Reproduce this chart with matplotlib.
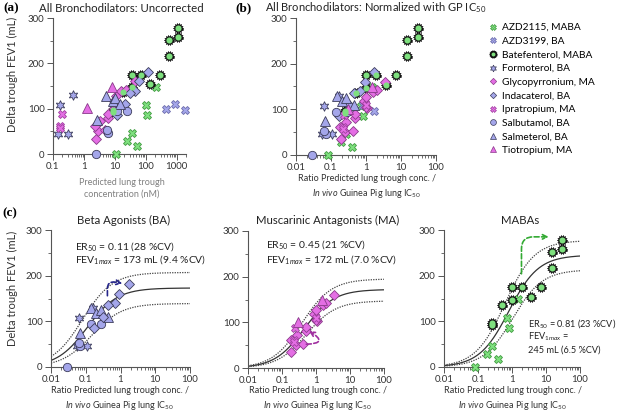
import matplotlib.pyplot as plt
import numpy as np
from matplotlib.lines import Line2D
from matplotlib.legend_handler import HandlerTuple
from matplotlib.patches import FancyArrowPatch
from matplotlib.path import Path
from matplotlib.ticker import FixedLocator, LogLocator, NullFormatter, FuncFormatter

plt.rcParams['font.family'] = ['Lato', 'DejaVu Sans']
plt.rcParams['mathtext.fontset'] = 'custom'
plt.rcParams['mathtext.rm'] = 'Lato'
plt.rcParams['mathtext.it'] = 'Lato:italic'
plt.rcParams['mathtext.bf'] = 'Lato:bold'

# ---- data: delta trough FEV1 (mL), conc (nM), ratio conc / GP IC50 ----
azd2115_y = [0, 28, 46, 17, 107, 85, 148]
azd2115_conc = [11.3, 25, 36, 52, 100, 110, 210]
azd2115_ratio = [0.08, 0.19, 0.26, 0.39, 0.71, 0.8, 1.5]

azd3199_y = [99, 110, 96]
azd3199_conc = [440, 890, 1860]
azd3199_ratio = [0.4, 0.81, 1.7]

batef_y = [278, 258, 251, 216, 175, 154, 175, 175, 147, 136, 96, 92]
batef_conc = [1100, 1100, 560, 560, 280, 135, 72, 37, 37, 18, 8.4, 8.4]
batef_ratio = [30, 30, 15.3, 15.3, 7.2, 3.7, 1.97, 1.0, 1.0, 0.51, 0.25, 0.25]

formo_y = [108, 45, 45, 130]
formo_conc = [0.168, 0.149, 0.31, 0.45]
formo_ratio = [0.063, 0.055, 0.11, 0.165]

glyco_y = [34, 51, 53, 62, 73, 80, 89, 102, 106, 118, 127, 138, 142, 160]
glyco_conc = [2.44, 2.9, 4.8, 2.2, 3.2, 6.1, 6.1, 9.5, 10, 9.3, 11.3, 16.3, 23, 44]
glyco_ratio = [0.19, 0.255, 0.42, 0.18, 0.27, 0.5, 0.5, 1.1, 0.97, 0.9, 1.0, 1.6, 2.0, 3.4]

inda_y = [181, 160, 140, 135, 110, 86]
inda_conc = [119, 61, 44, 30, 22, 12]
inda_ratio = [1.7, 0.93, 0.68, 0.45, 0.32, 0.17]

iprat_y = [88, 62, 58, 110]
iprat_conc = [0.19, 0.168, 0.168, 10.7]
iprat_ratio = [0.24, 0.22, 0.22, 1.0]

salbu_y = [0, 47, 52, 94, 94]
salbu_conc = [2.4, 6.1, 5.6, 11.9, 24]
salbu_ratio = [0.028, 0.07, 0.062, 0.14, 0.28]

salme_y = [74, 129, 118, 124, 110]
salme_conc = [2.6, 5.1, 8.4, 10, 14.5]
salme_ratio = [0.067, 0.145, 0.2, 0.27, 0.44]

tio_y = [101, 148]
tio_conc = [1.22, 7.8]
tio_ratio = [0.3, 1.5]

# Emax fits (ER50, Emax) and the dotted bands
ba_fit = (0.11, 173)
ba_upper = (0.08, 207)
ba_lower = (0.15, 139)
ma_fit = (0.45, 172)
ma_upper = (0.38, 195)
ma_lower = (0.52, 147)
maba_fit = (0.81, 245)
maba_upper = (0.62, 277)
maba_lower = (1.05, 213)

# ---- styles ----
lav = '#a4a6ea'
pink = '#e46ee4'
green = '#7ee07e'
dark = '#3c3c5a'

ang = np.linspace(0, 2 * np.pi, 29)[:-1]
rad = np.where(np.arange(28) % 2 == 0, 1.0, 0.72)
gear = Path(np.column_stack([rad * np.cos(ang), rad * np.sin(ang)]), closed=True)

styles = {
    'AZD2115, MABA': dict(marker='X', mfc=green, mec='#3f9a3f', ms=6),
    'AZD3199, BA': dict(marker='X', mfc=lav, mec='#6a6aaa', ms=6),
    'Batefenterol, MABA': None,
    'Formoterol, BA': dict(marker=(6, 1, 0), mfc=lav, mec=dark, ms=7),
    'Glycopyrronium, MA': dict(marker='D', mfc=pink, mec='#8a3a8a', ms=4.6),
    'Indacaterol, BA': dict(marker='D', mfc=lav, mec=dark, ms=4.6),
    'Ipratropium, MA': dict(marker='X', mfc=pink, mec='#a040a0', ms=6),
    'Salbutamol, BA': dict(marker='o', mfc=lav, mec=dark, ms=6),
    'Salmeterol, BA': dict(marker='^', mfc=lav, mec=dark, ms=6.5),
    'Tiotropium, MA': dict(marker='^', mfc=pink, mec='#8a3a8a', ms=6.5),
}

series = {
    'AZD2115, MABA': (azd2115_conc, azd2115_ratio, azd2115_y),
    'AZD3199, BA': (azd3199_conc, azd3199_ratio, azd3199_y),
    'Batefenterol, MABA': (batef_conc, batef_ratio, batef_y),
    'Formoterol, BA': (formo_conc, formo_ratio, formo_y),
    'Glycopyrronium, MA': (glyco_conc, glyco_ratio, glyco_y),
    'Indacaterol, BA': (inda_conc, inda_ratio, inda_y),
    'Ipratropium, MA': (iprat_conc, iprat_ratio, iprat_y),
    'Salbutamol, BA': (salbu_conc, salbu_ratio, salbu_y),
    'Salmeterol, BA': (salme_conc, salme_ratio, salme_y),
    'Tiotropium, MA': (tio_conc, tio_ratio, tio_y),
}


def draw(ax, name, x, y):
    if name == 'Batefenterol, MABA':
        ax.plot(x, y, ls='none', marker=gear, ms=7.5, mfc='#111111', mec='#111111',
                mew=0.3, clip_on=False, zorder=3)
        ax.plot(x, y, ls='none', marker='o', ms=4.4, mfc=green, mec='none',
                clip_on=False, zorder=3.1)
    else:
        ax.plot(x, y, ls='none', mew=0.6, clip_on=False, zorder=3, **styles[name])


W, H = 617, 412
fig = plt.figure(figsize=(W / 100, H / 100), dpi=100)


def px_axes(l, r, t, b):
    return fig.add_axes([l / W, 1 - b / H, (r - l) / W, (b - t) / H])


def style_axes(ax, xmin, xmax):
    ax.set_xscale('log')
    ax.set_xlim(xmin, xmax)
    ax.set_ylim(0, 300)
    for s in ['top', 'right']:
        ax.spines[s].set_visible(False)
    for s in ['left', 'bottom']:
        ax.spines[s].set_color('#555555')
        ax.spines[s].set_linewidth(0.8)
    ax.yaxis.set_major_locator(FixedLocator([0, 100, 200, 300]))
    ax.yaxis.set_minor_locator(FixedLocator([50, 150, 250]))
    ax.xaxis.set_major_locator(LogLocator(base=10, numticks=12))
    ax.xaxis.set_minor_locator(LogLocator(base=10, subs=np.arange(2, 10), numticks=12))
    ax.xaxis.set_minor_formatter(NullFormatter())
    ax.xaxis.set_major_formatter(FuncFormatter(lambda v, p: f'{v:g}'))
    ax.tick_params(which='major', direction='out', length=4, width=0.7, color='#555555',
                   labelsize=7, labelcolor='#333333', pad=2)
    ax.tick_params(which='minor', direction='out', length=2.5, width=0.6, color='#555555')


def ftext(x, y, s, **kw):
    fig.text(x / W, 1 - y / H, s, **kw)


# ---- (a) uncorrected ----
ax_a = px_axes(53, 186, 18, 154)
style_axes(ax_a, 0.1, 2000)
for name, (conc, ratio, yv) in series.items():
    draw(ax_a, name, conc, yv)

# ---- (b) normalized ----
ax_b = px_axes(296, 436, 18, 155)
style_axes(ax_b, 0.01, 100)
for name, (conc, ratio, yv) in series.items():
    draw(ax_b, name, ratio, yv)

# ---- (c) class panels ----
xfit = np.logspace(-2, 2, 300)
panels = [
    (px_axes(51, 190, 230, 367), ['Formoterol, BA', 'Salbutamol, BA', 'Salmeterol, BA', 'Indacaterol, BA'],
     ba_fit, ba_upper, ba_lower),
    (px_axes(248, 384, 231, 368), ['Glycopyrronium, MA', 'Ipratropium, MA', 'Tiotropium, MA'],
     ma_fit, ma_upper, ma_lower),
    (px_axes(444, 580, 230, 367), ['AZD2115, MABA', 'Batefenterol, MABA'],
     maba_fit, maba_upper, maba_lower),
]
axes_c = []
for ax, names, fit, up, lo in panels:
    style_axes(ax, 0.01, 100)
    ax.plot(xfit, fit[1] * xfit / (fit[0] + xfit), color='#333333', lw=0.9, zorder=2)
    for er50, emax in (up, lo):
        ax.plot(xfit, emax * xfit / (er50 + xfit), color='#444444', lw=0.9, ls=(0, (1, 1)), zorder=2)
    for name in names:
        conc, ratio, yv = series[name]
        draw(ax, name, ratio, yv)
    axes_c.append(ax)

ax_c1, ax_c2, ax_c3 = axes_c

# dashed arrows
arr1 = FancyArrowPatch((0.42, 150), (1.35, 182), connectionstyle='angle,angleA=90,angleB=-10,rad=8',
                       arrowstyle='->', mutation_scale=8, color='#25258a', lw=1.2, ls=(0, (3, 1.5)), zorder=4)
ax_c1.add_patch(arr1)
arr2 = FancyArrowPatch((0.43, 52), (0.53, 84), connectionstyle='angle3,angleA=0,angleB=150',
                       arrowstyle='->', mutation_scale=8, color='#a030a0', lw=1.2, ls=(0, (3, 1.5)), zorder=4)
ax_c2.add_patch(arr2)
arr3 = FancyArrowPatch((1.9, 198), (14.5, 285), connectionstyle='angle,angleA=90,angleB=0,rad=12',
                       arrowstyle='->', mutation_scale=8, color='#33aa33', lw=1.2, ls=(0, (3, 1.5)), zorder=4)
ax_c3.add_patch(arr3)

# ---- text ----
ftext(11, 8, '(a)', fontsize=9.5, fontweight='bold', family='Liberation Serif', ha='center', va='center')
ftext(243, 8, '(b)', fontsize=9.5, fontweight='bold', family='Liberation Serif', ha='center', va='center')
ftext(10, 213, '(c)', fontsize=9.5, fontweight='bold', family='Liberation Serif', ha='center', va='center')

ftext(121, 8, 'All Bronchodilators: Uncorrected', fontsize=8.2, ha='center', va='center', color='#222222')
ftext(376, 8, 'All Bronchodilators: Normalized with GP IC$_{50}$', fontsize=8, ha='center', va='center',
      color='#222222')
ftext(124, 220, 'Beta Agonists (BA)', fontsize=8.2, ha='center', va='center', color='#222222')
ftext(328, 220, 'Muscarinic Antagonists (MA)', fontsize=8.2, ha='center', va='center', color='#222222')
ftext(520, 220, 'MABAs', fontsize=8.2, ha='center', va='center', color='#222222')

ylab = 'Delta trough FEV1 (mL)'
ftext(12, 74, ylab, fontsize=8, rotation=90, ha='center', va='center', color='#333333')
ftext(12, 288, ylab, fontsize=8, rotation=90, ha='center', va='center', color='#333333')

ftext(122, 188, 'Predicted lung trough\nconcentration (nM)', fontsize=6.5, ha='center', va='center',
      color='#808080', linespacing=1.35)
ratio_lab = 'Ratio Predicted lung trough conc. /\n$\\it{In\\ vivo}$ Guinea Pig lung IC$_{50}$'
for cx, cy in [(367, 187), (120, 399), (318, 399), (513, 399)]:
    ftext(cx, cy, ratio_lab, fontsize=6.5, ha='center', va='center', color='#333333', linespacing=1.4)

ftext(75, 247, 'ER$_{50}$ = 0.11 (28 %CV)', fontsize=7.5, va='center', color='#222222')
ftext(75, 260, 'FEV$_{1max}$ = 173 mL (9.4 %CV)', fontsize=7.5, va='center', color='#222222')
ftext(266, 245, 'ER$_{50}$ = 0.45 (21 %CV)', fontsize=7.5, va='center', color='#222222')
ftext(266, 259, 'FEV$_{1max}$ = 172 mL (7.0 %CV)', fontsize=7.5, va='center', color='#222222')
ftext(528, 323, 'ER$_{50}$ = 0.81 (23 %CV)', fontsize=6.6, va='center', color='#222222')
ftext(528, 337, 'FEV$_{1max}$ =', fontsize=6.6, va='center', color='#222222')
ftext(528, 350, '245 mL (6.5 %CV)', fontsize=6.6, va='center', color='#222222')

# ---- legend ----
handles = []
for name in series:
    if name == 'Batefenterol, MABA':
        h = (Line2D([], [], ls='none', marker=gear, ms=5, mfc='#111111', mec='#111111'),
             Line2D([], [], ls='none', marker='o', ms=2.8, mfc=green, mec='none'))
    else:
        st = dict(styles[name])
        st['ms'] = st['ms'] * 0.7
        h = Line2D([], [], ls='none', mew=0.5, **st)
    handles.append(h)
fig.legend(handles, list(series.keys()), loc='upper left', bbox_to_anchor=(488 / W, 1 - 23 / H),
           frameon=False, fontsize=7.3, handlelength=0.9, handletextpad=0.5, labelspacing=0.45,
           borderaxespad=0, borderpad=0, handler_map={tuple: HandlerTuple(ndivide=1)})

fig.savefig('out.png', dpi=100)
